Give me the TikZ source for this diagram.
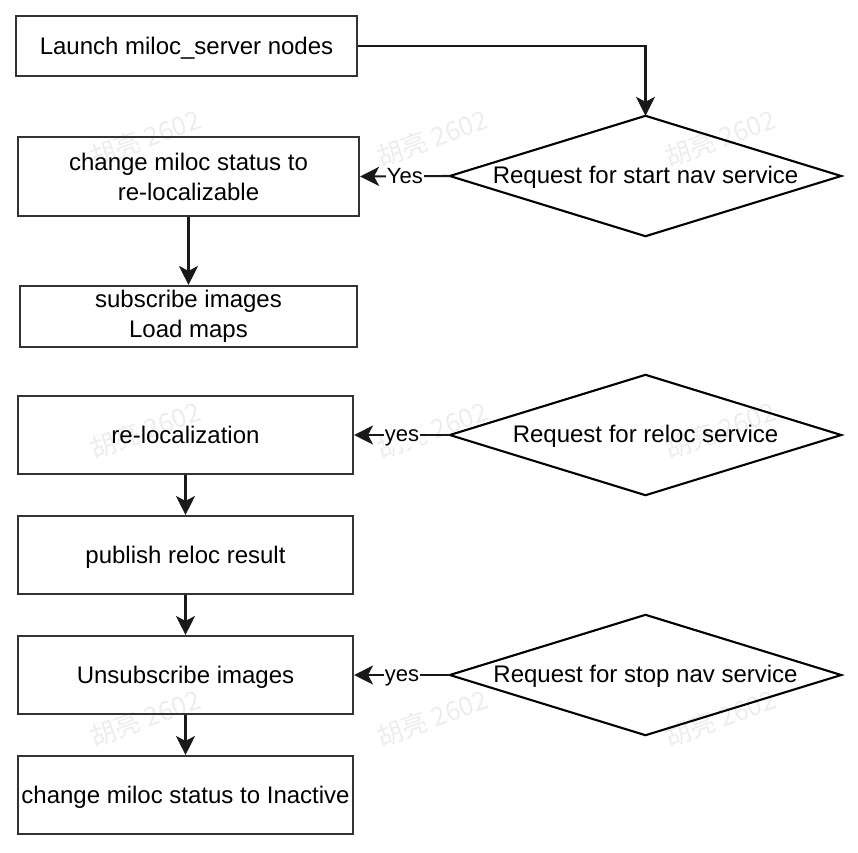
\documentclass[tikz,border=0pt]{standalone}
\usepackage{fontspec}
\setmainfont{Liberation Sans}
\newfontfamily\cjkwm{Noto Sans CJK SC}
\usetikzlibrary{arrows.meta}
\begin{document}
\begin{tikzpicture}[x=1pt,y=-1pt,
  box/.style={draw=black!80,line width=2.1pt,rectangle,inner sep=0pt,align=center,
    font=\fontsize{24}{30}\selectfont,text=black},
  one/.style={text height=20pt,text depth=3.5pt},
  dia/.style={rectangle,inner sep=0pt,minimum width=391pt,minimum height=120pt,
    text height=19pt,text depth=5pt,font=\fontsize{24}{30}\selectfont,text=black},
  conn/.style={line width=2.1pt,black!90,-{Stealth[length=19pt,width=19pt,inset=5pt]}},
  lbl/.style={fill=white,inner sep=1pt,text height=18pt,text depth=4.5pt,
    font=\fontsize{22}{26}\selectfont,text=black},
  wm/.style={text=black!7,rotate=20,font=\cjkwm\fontsize{26}{30}\selectfont}
  ]
\useasboundingbox (0,0) rectangle (858,852);
% watermarks
\foreach \wx in {145,432,720}{
  \foreach \wy in {138,430,718}{
    \node[wm] at (\wx,\wy) {胡亮 2602};
  }
}
% boxes
\node[box,one,minimum width=341pt,minimum height=60pt] (launch) at (186.5,46) {Launch miloc\_server nodes};
\node[box,minimum width=341pt,minimum height=79pt] (status) at (188.5,176.5) {change miloc status to\\re-localizable};
\node[box,minimum width=337pt,minimum height=61pt] (sub) at (188.5,316.5) {subscribe images\\Load maps};
\node[box,one,minimum width=335pt,minimum height=78pt] (reloc) at (185.5,435) {re-localization};
\node[box,one,minimum width=335pt,minimum height=78pt] (pub) at (185.5,555) {publish reloc result};
\node[box,one,minimum width=335pt,minimum height=78pt] (unsub) at (185.5,675) {Unsubscribe images};
\node[box,one,minimum width=335pt,minimum height=78pt] (inact) at (185.5,795) {change miloc status to Inactive};
% diamonds
\node[dia] (d1) at (645.5,176) {Request for start nav service};
\node[dia] (d2) at (645.5,435) {Request for reloc service};
\node[dia] (d3) at (645.5,675) {Request for stop nav service};
\foreach \d in {d1,d2,d3}{
  \draw[line width=2.1pt,black,line join=miter] (\d.north) -- (\d.east) -- (\d.south) -- (\d.west) -- cycle;
}
% connectors
\draw[conn] (launch.east) -| (d1.north);
\draw[conn] (d1.west) -- node[lbl]{Yes} (status.east);
\draw[conn] (status.south) -- (sub.north);
\draw[conn] (d2.west) -- node[lbl]{yes} (reloc.east);
\draw[conn] (reloc.south) -- (pub.north);
\draw[conn] (pub.south) -- (unsub.north);
\draw[conn] (d3.west) -- node[lbl]{yes} (unsub.east);
\draw[conn] (unsub.south) -- (inact.north);
\end{tikzpicture}
\end{document}
